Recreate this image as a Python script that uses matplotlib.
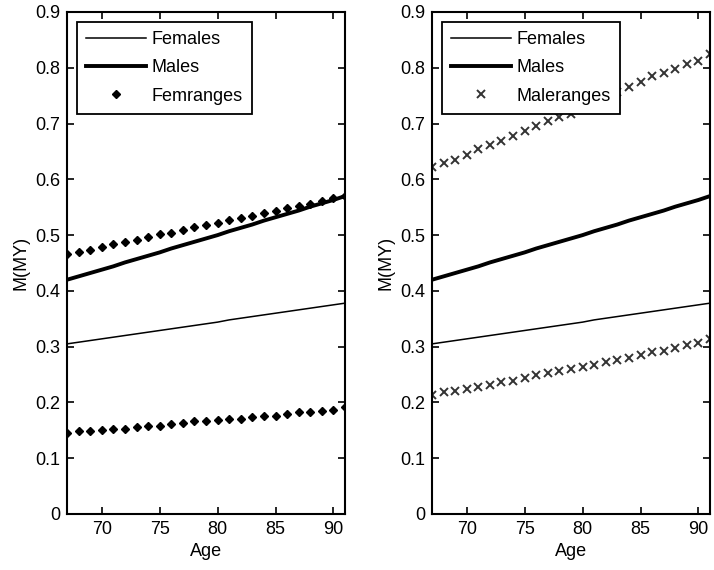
import matplotlib
matplotlib.use("Agg")
import matplotlib.pyplot as plt
import numpy as np

plt.rcParams['font.family'] = ['Liberation Sans', 'DejaVu Sans']

ages = list(range(67, 92))

females = [0.305, 0.308, 0.311, 0.314, 0.317, 0.320, 0.323, 0.326, 0.329, 0.332,
           0.335, 0.338, 0.341, 0.344, 0.348, 0.351, 0.354, 0.357, 0.360, 0.363,
           0.366, 0.369, 0.372, 0.375, 0.378]
males = [0.420, 0.426, 0.432, 0.438, 0.444, 0.451, 0.457, 0.463, 0.469, 0.476,
         0.482, 0.488, 0.494, 0.500, 0.507, 0.513, 0.519, 0.526, 0.532, 0.538,
         0.544, 0.551, 0.557, 0.563, 0.570]
femrange_hi = [0.466, 0.470, 0.473, 0.478, 0.484, 0.488, 0.491, 0.497, 0.502, 0.504,
               0.509, 0.515, 0.518, 0.522, 0.527, 0.531, 0.535, 0.540, 0.543, 0.548,
               0.553, 0.556, 0.561, 0.566, 0.570]
femrange_lo = [0.146, 0.148, 0.148, 0.150, 0.152, 0.152, 0.156, 0.158, 0.158, 0.161,
               0.163, 0.166, 0.166, 0.168, 0.171, 0.171, 0.174, 0.176, 0.176, 0.179,
               0.182, 0.182, 0.184, 0.187, 0.191]
malerange_hi = [0.623, 0.629, 0.635, 0.644, 0.654, 0.662, 0.669, 0.678, 0.686, 0.696,
                0.705, 0.712, 0.718, 0.727, 0.737, 0.747, 0.756, 0.766, 0.775, 0.785,
                0.790, 0.797, 0.806, 0.812, 0.824]
malerange_lo = [0.214, 0.218, 0.221, 0.224, 0.228, 0.232, 0.237, 0.239, 0.243, 0.250,
                0.252, 0.256, 0.260, 0.264, 0.268, 0.273, 0.276, 0.279, 0.285, 0.290,
                0.293, 0.297, 0.303, 0.306, 0.313]

xticks = [70, 75, 80, 85, 90]
yticks = [0, 0.1, 0.2, 0.3, 0.4, 0.5, 0.6, 0.7, 0.8, 0.9]
yticklabels = ['0', '0.1', '0.2', '0.3', '0.4', '0.5', '0.6', '0.7', '0.8', '0.9']

W, H = 714, 570
fig = plt.figure(figsize=(W / 100, H / 100), dpi=100)
ax1 = fig.add_axes([67 / W, 56 / H, 278 / W, 502 / H])
ax2 = fig.add_axes([432 / W, 56 / H, 278 / W, 502 / H])

FS = 13

def style(ax):
    ax.set_xlim(67, 91)
    ax.set_ylim(0, 0.9)
    ax.set_xticks(xticks)
    ax.set_yticks(yticks)
    ax.set_yticklabels(yticklabels)
    ax.tick_params(direction='in', length=5, width=1.2, top=True, right=True,
                   labelsize=FS, pad=5, colors='black')
    for s in ax.spines.values():
        s.set_linewidth(1.5)
        s.set_color('black')
    ax.set_xlabel('Age', fontsize=FS, labelpad=4)
    ax.set_ylabel('M(MY)', fontsize=FS, labelpad=4)

# Left panel
ax1.plot(ages, females, color='black', lw=1.1, label='Females')
ax1.plot(ages, males, color='black', lw=2.8, label='Males')
ax1.plot(ages, femrange_hi, linestyle='none', marker='D', ms=4.2, color='black',
         label='Femranges')
ax1.plot(ages, femrange_lo, linestyle='none', marker='D', ms=4.2, color='black')
style(ax1)

# Right panel
ax2.plot(ages, females, color='black', lw=1.1, label='Females')
ax2.plot(ages, males, color='black', lw=2.8, label='Males')
ax2.plot(ages, malerange_hi, linestyle='none', marker='x', ms=5.5, mew=1.4,
         color='#333333', label='Maleranges')
ax2.plot(ages, malerange_lo, linestyle='none', marker='x', ms=5.5, mew=1.4,
         color='#333333')
style(ax2)

for ax in (ax1, ax2):
    leg = ax.legend(loc='upper left', fontsize=FS, frameon=True, fancybox=False,
                    framealpha=1, edgecolor='black', handlelength=3.3,
                    handletextpad=0.35, labelspacing=0.63, borderaxespad=0.55,
                    borderpad=0.5, numpoints=1)
    leg.get_frame().set_linewidth(1.3)
    leg.set_zorder(10)

fig.savefig('out.png', dpi=100, facecolor='white')
